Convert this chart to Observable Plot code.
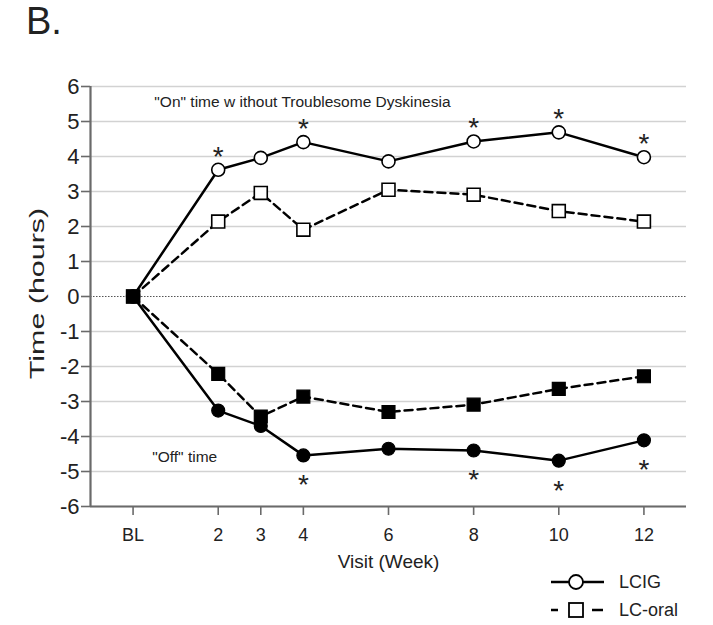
<!DOCTYPE html>
<html>
<head>
<meta charset="utf-8">
<script src="https://cdn.jsdelivr.net/npm/d3@7"></script>
<script src="https://cdn.jsdelivr.net/npm/@observablehq/plot@0.6"></script>
<style>
  body { margin: 0; background: white; }
  #wrap { position: relative; width: 713px; height: 625px; font-family: "Liberation Sans", Arial, sans-serif; color: #222; }
  #panel { position: absolute; left: 26px; top: -2px; font-size: 38px; line-height: 46px; }
  #chart { position: absolute; left: 0; top: 60px; }
  #legend { position: absolute; left: 545px; top: 566px; }
</style>
</head>
<body>
<div id="wrap">
  <div id="panel">B.</div>
  <div id="chart"></div>
  <div id="legend"></div>
</div>
<script>
// ---- data ----
const weeks = [0, 2, 3, 4, 6, 8, 10, 12];
const weekLabels = ["BL", "2", "3", "4", "6", "8", "10", "12"];
const onLCIG  = [0, 3.62, 3.96, 4.41, 3.86, 4.43, 4.69, 3.98];
const onOral  = [0, 2.14, 2.96, 1.91, 3.05, 2.91, 2.44, 2.14];
const offLCIG = [0, -3.26, -3.70, -4.54, -4.35, -4.40, -4.69, -4.11];
const offOral = [0, -2.21, -3.43, -2.86, -3.30, -3.09, -2.64, -2.28];
const onStarWeeks = [2, 4, 8, 10, 12];
const offStarWeeks = [4, 8, 10, 12];
const yTicks = [-6, -5, -4, -3, -2, -1, 0, 1, 2, 3, 4, 5, 6];
const xDomain = [-1, 13];
const yDomain = [-6, 6];
const annotations = [
  {week: 0.5, value: 5.55, text: "\"On\" time w ithout Troublesome Dyskinesia"},
  {week: 0.45, value: -4.59, text: "\"Off\" time"}
];
const legendItems = ["LCIG", "LC-oral"];

// ---- build tables ----
const toRows = (vals) => weeks.map((w, i) => ({week: w, value: vals[i]}));
const rOnLCIG = toRows(onLCIG), rOnOral = toRows(onOral);
const rOffLCIG = toRows(offLCIG), rOffOral = toRows(offOral);
const onStars = rOnLCIG.filter(d => onStarWeeks.includes(d.week));
const offStars = rOffLCIG.filter(d => offStarWeeks.includes(d.week));

const solid = {x: "week", y: "value", stroke: "black", strokeWidth: 2.5};
const dashed = {...solid, strokeDasharray: "8,5"};

const chart = Plot.plot({
  width: 713,
  height: 520,
  marginLeft: 90,
  marginRight: 27,
  marginTop: 26,
  marginBottom: 74,
  x: {domain: xDomain},
  y: {domain: yDomain},
  style: {fontFamily: "'Liberation Sans', Arial, sans-serif", background: "white", color: "#222", overflow: "visible"},
  marks: [
    Plot.gridY(yTicks.filter(d => d !== 0), {stroke: "#d2d2d2", strokeOpacity: 1, strokeWidth: 1.6}),
    Plot.ruleY([0], {stroke: "#555", strokeWidth: 1.2, strokeDasharray: "1.5,1.5"}),
    Plot.ruleX([xDomain[0]], {stroke: "#6a6a6a", strokeWidth: 2.2}),
    Plot.ruleY([yDomain[0]], {stroke: "#6a6a6a", strokeWidth: 2.2}),
    Plot.axisY({ticks: yTicks, tickFormat: d => String(d), tickSize: 9, tickPadding: 2, fontSize: 22, label: null, stroke: "#6a6a6a", strokeWidth: 1.6}),
    Plot.axisX({ticks: weeks, tickFormat: w => weekLabels[weeks.indexOf(w)], tickSize: 9, tickPadding: 13, fontSize: 18, label: null, stroke: "#6a6a6a", strokeWidth: 1.6}),
    Plot.text(["Time (hours)"], {frameAnchor: "left", textAnchor: "middle", rotate: -90, dx: -53, dy: -3, fontSize: 21, fill: "#222"}),
    Plot.text(["Visit (Week)"], {frameAnchor: "bottom", dy: 61, fontSize: 19, fill: "#222"}),
    Plot.line(rOnOral, dashed),
    Plot.line(rOffOral, dashed),
    Plot.line(rOnLCIG, solid),
    Plot.line(rOffLCIG, solid),
    Plot.dot(rOnOral, {x: "week", y: "value", symbol: "square", r: 7.3, fill: "white", stroke: "black", strokeWidth: 1.6}),
    Plot.dot(rOnLCIG, {x: "week", y: "value", symbol: "circle", r: 6.5, fill: "white", stroke: "black", strokeWidth: 1.6}),
    Plot.dot(rOffLCIG, {x: "week", y: "value", symbol: "circle", r: 6.5, fill: "black", stroke: "black", strokeWidth: 1.2}),
    Plot.dot(rOffOral, {x: "week", y: "value", symbol: "square", r: 7.3, fill: "black", stroke: "black", strokeWidth: 1.2}),
    Plot.text(onStars, {x: "week", y: "value", text: () => "*", dy: -13, fontSize: 28, fill: "#222"}),
    Plot.text(offStars, {x: "week", y: "value", text: () => "*", dy: 30, fontSize: 28, fill: "#222"}),
    Plot.text(annotations, {x: "week", y: "value", text: "text", textAnchor: "start", fontSize: 15.5, fill: "#222"})
  ]
});
// the y-axis title in the reference is drawn elongated along its length
d3.select(chart).selectAll("text").filter(function() { return this.textContent === "Time (hours)"; })
  .attr("transform", function() { return (this.getAttribute("transform") || "") + " scale(1.45,1)"; });
document.getElementById("chart").appendChild(chart);

// ---- legend ----
const lg = d3.select("#legend").append("svg").attr("width", 168).attr("height", 60)
  .style("font-family", "'Liberation Sans', Arial, sans-serif");
legendItems.forEach((name, i) => {
  const g = lg.append("g").attr("transform", `translate(0, ${16 + i * 28})`);
  if (i === 0) {
    g.append("line").attr("x1", 6).attr("x2", 59).attr("y1", 0).attr("y2", 0)
      .attr("stroke", "black").attr("stroke-width", 2.5);
    g.append("circle").attr("cx", 31).attr("cy", 0).attr("r", 7).attr("fill", "white").attr("stroke", "black").attr("stroke-width", 1.8);
  } else {
    g.append("line").attr("x1", 6).attr("x2", 59).attr("y1", 0).attr("y2", 0)
      .attr("stroke", "black").attr("stroke-width", 2.5).attr("stroke-dasharray", "7,34,11");
    g.append("rect").attr("x", 24).attr("y", -7).attr("width", 14).attr("height", 14).attr("fill", "white").attr("stroke", "black").attr("stroke-width", 1.8);
  }
  g.append("text").attr("x", 74).attr("y", 0).attr("dy", "0.35em").attr("font-size", 18).attr("fill", "#222").text(name);
});
</script>
</body>
</html>
